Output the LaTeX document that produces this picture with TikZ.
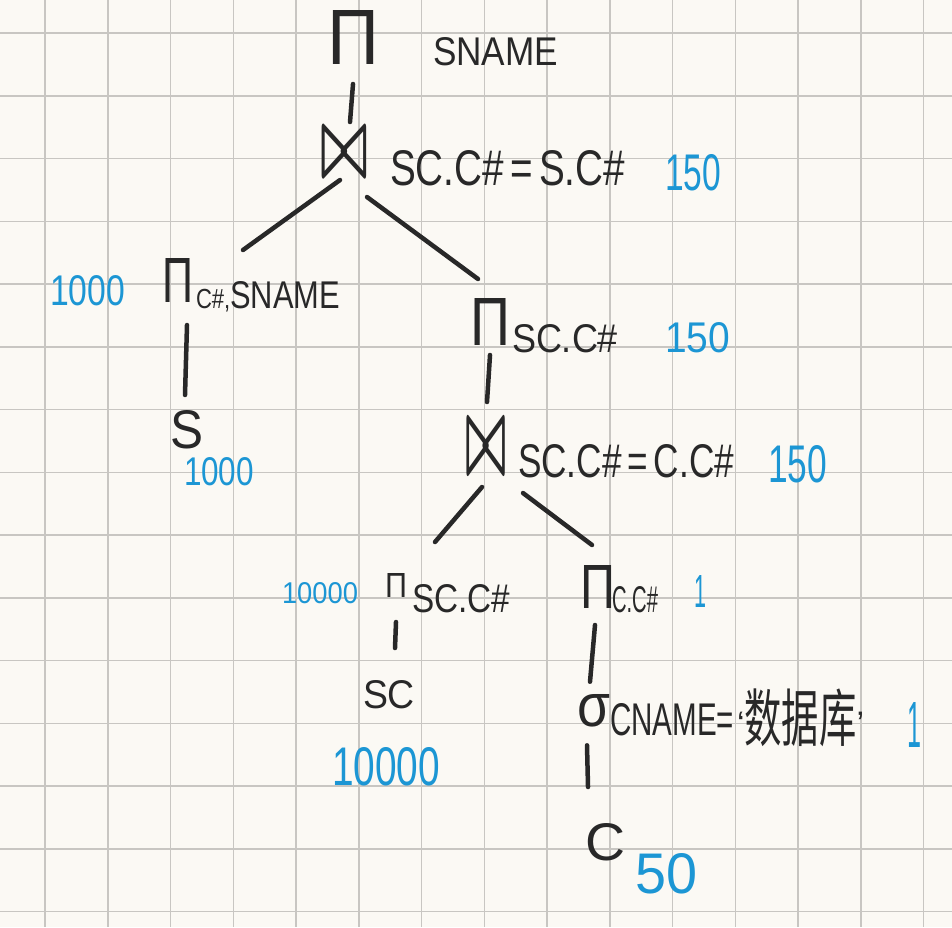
\documentclass[tikz,border=0pt]{standalone}
\usepackage{fontspec}
\usepackage{graphicx}
\setmainfont{Liberation Sans}
\newfontfamily\cjk{Noto Sans CJK SC}
\usetikzlibrary{calc}
\definecolor{ink}{RGB}{40,40,40}
\definecolor{bluenum}{RGB}{28,150,212}
\definecolor{paper}{RGB}{251,249,244}
\definecolor{gridc}{RGB}{200,198,194}
\newcommand{\fitbox}[3]{\resizebox{#1pt}{#2pt}{#3}}
\newcommand{\fitboxs}[3]{\resizebox*{#1pt}{#2pt}{#3}}
\begin{document}
\begin{tikzpicture}[x=1pt,y=-1pt,
  sym/.style={inner sep=0pt, outer sep=0pt, anchor=west, text=ink},
  lbl/.style={inner sep=0pt, outer sep=0pt, anchor=base west, text=ink},
  num/.style={inner sep=0pt, outer sep=0pt, anchor=base west, text=bluenum},
  edge/.style={draw=ink, line width=4.5pt, line cap=round},
  gridline/.style={draw=gridc, line width=1.5pt}]
\fill[paper] (0,0) rectangle (952,927);
\useasboundingbox (0,0) rectangle (952,927);
\foreach \i in {0,...,14} {
  \draw[gridline] ({45+62.75*\i},0) -- ({45+62.75*\i},927);
  \draw[gridline] (0,{33+62.75*\i}) -- (952,{33+62.75*\i});
}
% top projection
\node[sym] (p1) at (327,37) {\fitbox{52}{54}{Π}};
\node[lbl] (p1t) at (433,65) {\fitbox{125}{28}{SNAME}};
% top join
\node[sym] (j1) at (320,152.5) {\fitboxs{48}{45}{\boldmath$\bowtie$}};
\node[lbl] (j1t) at (390,185) {\fitbox{235}{35}{SC.C\#\,=\,S.C\#}};
\node[num] (n1) at (665,190) {\fitbox{56}{36}{150}};
% left projection
\node[sym] (p2) at (162,280) {\fitbox{31}{44}{Π}};
\node[lbl] (p2t) at (196,308) {\resizebox{144pt}{27pt}{{\fontsize{20}{20}\selectfont C\#,}{\fontsize{28}{28}\selectfont SNAME}}};
\node[num] (n2) at (50,305) {\fitbox{75}{30}{1000}};
\node[lbl] (s) at (170,448) {\fitbox{33}{38}{S}};
\node[num] (n3) at (184,485) {\fitbox{70}{28}{1000}};
% right projection
\node[sym] (p3) at (470,321.5) {\fitbox{40}{47}{Π}};
\node[lbl] (p3t) at (512,352) {\fitbox{106}{28}{SC.C\#}};
\node[num] (n4) at (665,352) {\fitbox{65}{30}{150}};
% lower join
\node[sym] (j2) at (465,447) {\fitboxs{42}{50}{\boldmath$\bowtie$}};
\node[lbl] (j2t) at (518,477) {\fitbox{216}{33}{SC.C\#\,=\,C.C\#}};
\node[num] (n5) at (768,482) {\fitbox{59}{37}{150}};
% projection on SC
\node[sym] (p4) at (385,585) {\fitbox{22}{24}{Π}};
\node[lbl] (p4t) at (412,612) {\fitbox{98}{28}{SC.C\#}};
\node[num] (n6) at (282,603) {\fitbox{76}{21}{10000}};
\node[lbl] (sc) at (363,708) {\fitbox{52}{28}{SC}};
\node[num] (n7) at (332,785) {\fitbox{108}{38}{10000}};
% projection on C
\node[sym] (p5) at (580,586.5) {\fitbox{35}{43}{Π}};
\node[lbl] (p5t) at (612,612) {\fitbox{46}{26}{C.C\#}};
\node[num] (n8) at (694,607) {\fitbox{12}{32}{1}};
% selection
\node[sym] (s5) at (577,711) {\fitbox{33}{32}{σ}};
\node[lbl] (s5t) at (610,735) {\fitbox{124}{32}{CNAME=}\hspace{3pt}{\fontsize{34}{34}\selectfont ‘}\raisebox{-6pt}{\fitboxs{112}{58}{\cjk 数据库}}{\fontsize{34}{34}\selectfont ’}};
\node[num] (n9) at (907,747) {\fitbox{14}{45}{1}};
\node[lbl] (c) at (585,860) {\fitbox{40}{37}{C}};
\node[num] (n10) at (635,893) {\fitbox{62}{40}{50}};
% connectors
\draw[edge] ($(p1.south)+(0,20)$) -- ($(j1.north)+(6,-8)$);
\draw[edge] ($(j1.south)+(-4,5)$) -- ($(p2t.north)+(-25,-31)$);
\draw[edge] ($(j1.south east)+(-1,22)$) -- ($(p3.north)+(-12,-19)$);
\draw[edge] ($(p2.south)+(9.5,23)$) -- ($(s.north)+(-1.5,-15)$);
\draw[edge] ($(p3.south)+(0,10)$) -- ($(j2.north)+(1,-20)$);
\draw[edge] ($(j2.south)+(-4,15)$) -- ($(p4.north east)+(28,-31)$);
\draw[edge] ($(j2.south east)+(16,21)$) -- ($(p5.north)+(-5.5,-20)$);
\draw[edge] ($(p4.south)+(0,25)$) -- ($(sc.north)+(6,-32)$);
\draw[edge] ($(p5.south)+(-2.5,17)$) -- ($(s5.north)+(-3.5,-13)$);
\draw[edge] ($(s5.south)+(-6.5,18)$) -- ($(c.north)+(-17,-36)$);
\end{tikzpicture}
\end{document}
